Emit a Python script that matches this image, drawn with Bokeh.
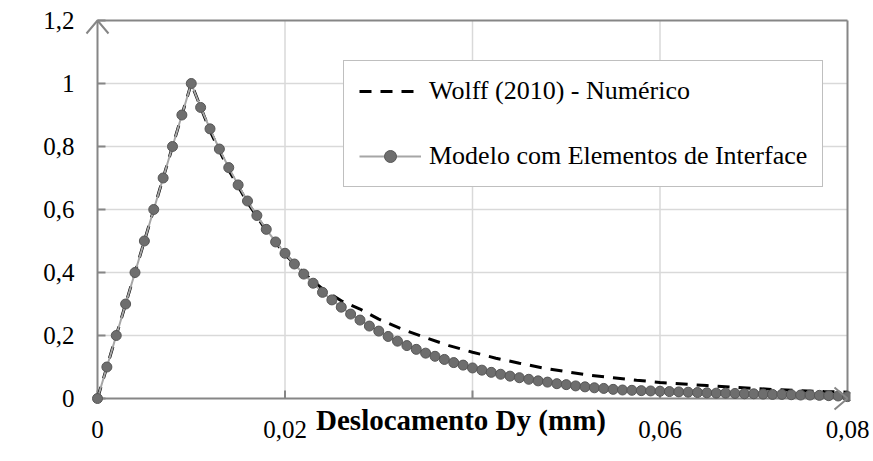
import math
from bokeh.plotting import figure
from bokeh.models import (Range1d, FixedTicker, CustomJSTickFormatter, Legend, LegendItem,
                          Label, ColumnDataSource)
from bokeh.embed import file_html
from bokeh.resources import INLINE

# ---- data ----
model_x = [0.000, 0.001, 0.002, 0.003, 0.004, 0.005, 0.006, 0.007, 0.008, 0.009, 0.010,
           0.011, 0.012, 0.013, 0.014, 0.015, 0.016, 0.017, 0.018, 0.019, 0.020,
           0.021, 0.022, 0.023, 0.024, 0.025, 0.026, 0.027, 0.028, 0.029, 0.030,
           0.031, 0.032, 0.033, 0.034, 0.035, 0.036, 0.037, 0.038, 0.039, 0.040,
           0.041, 0.042, 0.043, 0.044, 0.045, 0.046, 0.047, 0.048, 0.049, 0.050,
           0.051, 0.052, 0.053, 0.054, 0.055, 0.056, 0.057, 0.058, 0.059, 0.060,
           0.061, 0.062, 0.063, 0.064, 0.065, 0.066, 0.067, 0.068, 0.069, 0.070,
           0.071, 0.072, 0.073, 0.074, 0.075, 0.076, 0.077, 0.078, 0.079, 0.080]
model_y = [0.000, 0.100, 0.200, 0.300, 0.400, 0.500, 0.600, 0.700, 0.800, 0.900, 1.000,
           0.924, 0.856, 0.792, 0.733, 0.678, 0.627, 0.581, 0.537, 0.497, 0.461,
           0.427, 0.395, 0.366, 0.337, 0.313, 0.290, 0.268, 0.249, 0.230, 0.214,
           0.197, 0.182, 0.168, 0.156, 0.144, 0.134, 0.124, 0.114, 0.106, 0.097,
           0.090, 0.083, 0.077, 0.071, 0.066, 0.061, 0.056, 0.052, 0.047, 0.044,
           0.040, 0.037, 0.034, 0.032, 0.029, 0.027, 0.026, 0.025, 0.024, 0.023,
           0.022, 0.021, 0.020, 0.019, 0.018, 0.017, 0.017, 0.016, 0.015, 0.015,
           0.014, 0.013, 0.013, 0.012, 0.011, 0.011, 0.010, 0.009, 0.008, 0.006]

wolff_x = [0.000, 0.010, 0.012, 0.014, 0.016, 0.018, 0.020, 0.022, 0.024, 0.026,
           0.028, 0.030, 0.0325, 0.035, 0.0375, 0.040, 0.0425, 0.045, 0.0475, 0.050,
           0.0525, 0.055, 0.0575, 0.060, 0.0625, 0.065, 0.0675, 0.070, 0.0725, 0.075,
           0.0775, 0.080]
wolff_y = [0.000, 1.000, 0.850, 0.725, 0.622, 0.533, 0.458, 0.398, 0.348, 0.310,
           0.284, 0.252, 0.220, 0.193, 0.168, 0.147, 0.128, 0.112, 0.097, 0.085,
           0.074, 0.066, 0.058, 0.051, 0.046, 0.041, 0.036, 0.032, 0.028, 0.025,
           0.022, 0.020]

x_ticks = [0.0, 0.02, 0.04, 0.06, 0.08]
y_ticks = [0.0, 0.2, 0.4, 0.6, 0.8, 1.0, 1.2]
# in the reference the x-axis title is drawn over this tick label, which hides it
x_ticks_hidden_under_title = [0.04]

series_names = ["Wolff (2010) - Numérico", "Modelo com Elementos de Interface"]
x_title = "Deslocamento Dy (mm)"
y_title = "Fator de Carga"

# ---- styling / layout ----
FONT = "'Liberation Serif', serif"
AXIS_GRAY = "#868686"
GRID_GRAY = "#d9d9d9"

W, H = 873, 461
X0, X1, Y0, Y1 = x_ticks[0], x_ticks[-1], y_ticks[0], y_ticks[-1]
# plot (data) area in pixels
AX_L, AX_R, AX_T, AX_B = 97, 847, 20, 398
# extra frame padding around the data area so marks at the edges are not clipped
PAD_L, PAD_R, PAD_T, PAD_B = 26, 3, 3, 13
sx = (AX_R - AX_L) / (X1 - X0)
sy = (AX_B - AX_T) / (Y1 - Y0)
FR_L, FR_B = AX_L - PAD_L, AX_B + PAD_B   # frame left / bottom in page pixels

p = figure(width=W, height=H, output_backend="svg", toolbar_location=None,
           x_range=Range1d(X0 - PAD_L / sx, X1 + PAD_R / sx),
           y_range=Range1d(Y0 - PAD_B / sy, Y1 + PAD_T / sy),
           min_border_left=FR_L, min_border_right=W - AX_R - PAD_R,
           min_border_top=AX_T - PAD_T, min_border_bottom=H - FR_B)
p.background_fill_color = "white"
p.border_fill_color = "white"
p.outline_line_color = None
p.xgrid.visible = False
p.ygrid.visible = False

fmt_code = """
if (hidden.some((h) => Math.abs(h - tick) < 1e-12)) return '';
return Number(tick.toFixed(4)).toString().replace('.', ',');
"""
x_fmt = CustomJSTickFormatter(args=dict(hidden=x_ticks_hidden_under_title), code=fmt_code)
y_fmt = CustomJSTickFormatter(args=dict(hidden=[]), code=fmt_code)
for ax, ticks, f in ((p.xaxis[0], x_ticks, x_fmt), (p.yaxis[0], y_ticks, y_fmt)):
    ax.ticker = FixedTicker(ticks=ticks)
    ax.formatter = f
    ax.axis_line_color = None
    ax.major_tick_line_color = None
    ax.minor_tick_line_color = None
    ax.major_tick_in = 0
    ax.major_tick_out = 0
    ax.major_label_text_font = FONT
    ax.major_label_text_font_size = "25px"
    ax.major_label_text_color = "black"

p.xaxis.major_label_standoff = 22 - PAD_B
p.yaxis.major_label_standoff = 23 - PAD_L

xa = p.xaxis[0]
xa.axis_label = x_title
xa.axis_label_text_font = FONT
xa.axis_label_text_font_style = "bold"
xa.axis_label_text_font_size = "29px"
xa.axis_label_text_color = "black"
xa.axis_label_standoff = -37

# y-axis title as a rotated label
p.add_layout(Label(x=22 - FR_L, y=FR_B - 201,
                   x_units="screen", y_units="screen", text=y_title, angle=math.pi / 2,
                   text_font=FONT, text_font_style="bold", text_font_size="22px",
                   text_color="black", text_align="center", text_baseline="middle"))

# grid lines (inside the data area only)
gy = [t for t in y_ticks[1:-1]]
gx = [t for t in x_ticks[1:-1]]
p.segment(x0=[X0] * len(gy), y0=gy, x1=[X1] * len(gy), y1=gy,
          line_color=GRID_GRAY, line_width=1.5)
p.segment(x0=gx, y0=[Y0] * len(gx), x1=gx, y1=[Y1] * len(gx),
          line_color=GRID_GRAY, line_width=1.5)
# top / right border of the data area
p.segment(x0=[X0, X1], y0=[Y1, Y0], x1=[X1, X1], y1=[Y1, Y1],
          line_color=AXIS_GRAY, line_width=2)
# inward tick marks (8 px)
TICK = 8
p.segment(x0=[X0] * len(y_ticks), y0=y_ticks, x1=[X0 + TICK / sx] * len(y_ticks), y1=y_ticks,
          line_color=AXIS_GRAY, line_width=2)
p.segment(x0=x_ticks, y0=[Y0] * len(x_ticks), x1=x_ticks, y1=[Y0 + TICK / sy] * len(x_ticks),
          line_color=AXIS_GRAY, line_width=2)
# axis lines
p.segment(x0=[X0, X0], y0=[Y0, Y0], x1=[X1, X0], y1=[Y0, Y1],
          line_color=AXIS_GRAY, line_width=2)

# ---- data series ----
src_w = ColumnDataSource(dict(x=wolff_x, y=wolff_y))
src_m = ColumnDataSource(dict(x=model_x, y=model_y))

r_w = p.line("x", "y", source=src_w, line_color="black", line_width=3, line_dash="12 9")
r_ml = p.line("x", "y", source=src_m, line_color="#a6a6a6", line_width=2)
r_ms = p.scatter("x", "y", source=src_m, size=10, fill_color="#6e6e6e",
                 line_color="#575757", line_width=1)

# open arrowheads at the axis ends (pixel sizes converted with the scale)
HALF, LEN = 11, 13
p.line([X0 - HALF / sx, X0, X0 + HALF / sx], [Y1 - LEN / sy, Y1, Y1 - LEN / sy],
       line_color=AXIS_GRAY, line_width=2)
p.line([X1 - LEN / sx, X1, X1 - LEN / sx], [Y0 + HALF / sy, Y0, Y0 - HALF / sy],
       line_color=AXIS_GRAY, line_width=2)

legend = Legend(items=[LegendItem(label=series_names[0], renderers=[r_w]),
                       LegendItem(label=series_names[1], renderers=[r_ml, r_ms])],
                location=(343 - FR_L, FR_B - 187), orientation="vertical",
                label_text_font=FONT, label_text_font_size="26px",
                label_text_color="black",
                glyph_width=62, glyph_height=30, label_height=30,
                label_standoff=8, spacing=35, padding=15, margin=0,
                border_line_color="#808080", border_line_width=1.5,
                background_fill_color="white", background_fill_alpha=1.0)
p.add_layout(legend, "center")

open("out.html", "w").write(file_html(p, INLINE))
